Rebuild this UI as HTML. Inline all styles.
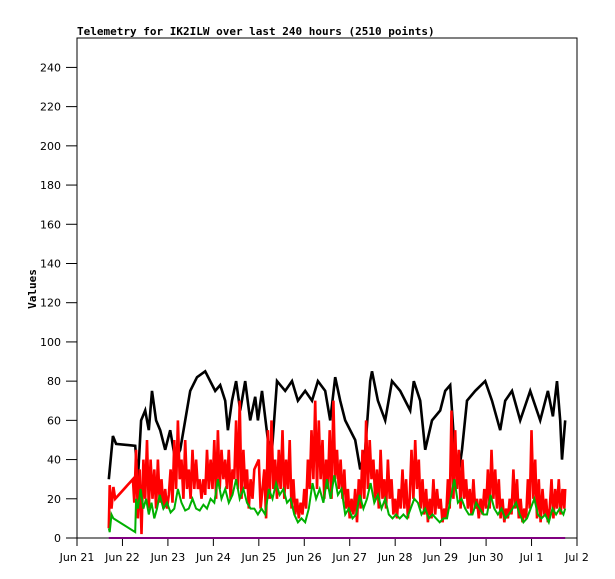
<!DOCTYPE html>
<html><head><meta charset="utf-8"><style>
body{margin:0;background:#fff;}
svg{display:block;font-family:"DejaVu Sans Mono","Liberation Mono",monospace;}
</style></head><body>
<svg id="chart" width="615" height="579" viewBox="0 0 615 579" xmlns="http://www.w3.org/2000/svg">
<rect width="615" height="579" fill="#fff"/>
<text x="77" y="35" font-size="11" font-weight="bold">Telemetry for IK2ILW over last 240 hours (2510 points)</text>
<text x="0" y="0" font-size="11" font-weight="bold" text-anchor="middle" transform="translate(36,289) rotate(-90)">Values</text>
<rect x="77" y="38" width="500" height="500" fill="none" stroke="#000" stroke-width="1"/>
<g id="axes"></g>
<g id="series"></g>
</svg>
<script>
const yTicks=[0,20,40,60,80,100,120,140,160,180,200,220,240];
const xTickLabels=["Jun 21","Jun 22","Jun 23","Jun 24","Jun 25","Jun 26","Jun 27","Jun 28","Jun 29","Jun 30","Jul 1","Jul 2"];
const blackDays=[0.70,0.79,0.86,1.28,1.34,1.41,1.50,1.58,1.65,1.74,1.83,1.94,2.05,2.16,2.27,2.38,2.49,2.64,2.82,2.93,3.04,3.15,3.26,3.32,3.41,3.50,3.59,3.70,3.81,3.92,3.98,4.07,4.20,4.29,4.40,4.58,4.73,4.86,5.02,5.17,5.30,5.46,5.57,5.68,5.79,5.90,6.12,6.23,6.34,6.45,6.49,6.62,6.78,6.93,7.11,7.33,7.41,7.55,7.66,7.81,7.99,8.10,8.21,8.25,8.32,8.38,8.47,8.58,8.76,8.98,9.13,9.31,9.42,9.57,9.75,9.97,10.19,10.36,10.47,10.56,10.63,10.67,10.74];
const blackVals=[30,52,48,47,30,60,65,55,75,60,55,45,55,40,45,60,75,82,85,80,75,78,70,55,70,80,65,80,60,72,60,75,50,45,80,75,80,70,75,70,80,75,60,82,70,60,50,35,45,80,85,70,60,80,75,65,80,70,45,60,65,75,78,65,40,30,45,70,75,80,70,55,70,75,60,75,60,75,62,80,60,40,60];
const redDays=[0.70,0.72,0.76,0.80,0.84,1.23,1.26,1.30,1.34,1.38,1.42,1.46,1.50,1.54,1.58,1.62,1.66,1.70,1.74,1.78,1.82,1.86,1.90,1.94,1.98,2.02,2.06,2.10,2.14,2.18,2.22,2.26,2.30,2.34,2.38,2.42,2.46,2.50,2.54,2.58,2.62,2.66,2.70,2.74,2.78,2.82,2.86,2.90,2.94,2.98,3.02,3.06,3.10,3.14,3.18,3.22,3.26,3.30,3.34,3.38,3.42,3.46,3.50,3.54,3.58,3.62,3.66,3.70,3.74,3.78,3.82,3.86,3.90,4.00,4.04,4.08,4.12,4.16,4.20,4.24,4.28,4.32,4.36,4.40,4.44,4.48,4.52,4.56,4.60,4.64,4.68,4.72,4.76,4.80,4.84,4.88,4.92,4.96,5.00,5.04,5.08,5.12,5.16,5.20,5.24,5.28,5.32,5.36,5.40,5.44,5.48,5.52,5.56,5.60,5.64,5.68,5.72,5.76,5.80,5.84,5.88,5.92,5.96,6.00,6.04,6.08,6.12,6.16,6.20,6.24,6.28,6.32,6.36,6.40,6.44,6.48,6.52,6.56,6.60,6.64,6.68,6.72,6.76,6.80,6.84,6.88,6.92,6.96,7.00,7.04,7.08,7.12,7.16,7.20,7.24,7.28,7.32,7.36,7.40,7.44,7.48,7.52,7.56,7.60,7.64,7.68,7.72,7.76,7.80,7.84,7.88,7.92,7.96,8.00,8.04,8.08,8.12,8.16,8.20,8.24,8.28,8.32,8.36,8.40,8.44,8.48,8.52,8.56,8.60,8.64,8.68,8.72,8.76,8.80,8.84,8.88,8.92,8.96,9.00,9.04,9.08,9.12,9.16,9.20,9.24,9.28,9.32,9.36,9.40,9.44,9.48,9.52,9.56,9.60,9.64,9.68,9.72,9.76,9.80,9.84,9.88,9.92,9.96,10.00,10.04,10.08,10.12,10.16,10.20,10.24,10.28,10.32,10.36,10.40,10.44,10.48,10.52,10.56,10.60,10.64,10.68,10.72,10.74];
const redVals=[5,27,15,26,20,30,18,45,10,35,2,40,20,50,15,40,20,35,15,40,18,30,15,25,15,22,35,18,50,25,60,30,40,20,50,25,35,20,45,25,40,25,30,20,30,22,45,25,40,25,50,20,55,25,45,30,40,25,45,20,35,30,60,25,70,20,45,25,35,15,30,20,35,40,15,25,35,10,55,20,60,25,40,20,45,25,55,20,40,25,50,15,30,12,20,10,18,12,25,15,40,25,55,30,70,25,60,30,50,20,40,25,55,20,70,30,45,25,40,20,35,15,25,10,20,12,25,8,30,15,45,20,60,25,50,30,40,20,35,15,45,20,30,15,40,20,30,12,20,10,25,15,35,15,30,10,20,45,20,50,25,40,15,30,12,25,8,20,10,30,12,25,15,20,8,15,10,30,15,65,20,55,25,45,15,40,20,30,15,25,12,30,15,20,10,20,12,25,15,35,15,45,20,35,15,30,10,20,8,15,10,20,12,35,15,30,10,20,8,15,10,30,15,55,20,40,10,30,8,25,12,20,8,15,30,10,25,15,30,12,25,15,25];
const greenDays=[0.70,0.72,0.76,0.80,1.28,1.30,1.34,1.40,1.46,1.52,1.58,1.64,1.70,1.76,1.82,1.90,1.98,2.06,2.14,2.22,2.30,2.38,2.46,2.54,2.62,2.70,2.78,2.86,2.94,3.02,3.10,3.18,3.26,3.34,3.42,3.50,3.58,3.66,3.74,3.82,3.90,3.98,4.06,4.14,4.22,4.30,4.38,4.46,4.54,4.62,4.70,4.78,4.86,4.94,5.02,5.10,5.18,5.26,5.34,5.42,5.50,5.58,5.66,5.74,5.82,5.90,5.98,6.06,6.14,6.22,6.30,6.38,6.46,6.54,6.62,6.70,6.78,6.86,6.94,7.02,7.10,7.18,7.26,7.34,7.42,7.50,7.58,7.66,7.74,7.82,7.90,7.98,8.06,8.14,8.22,8.30,8.38,8.46,8.54,8.62,8.70,8.78,8.86,8.94,9.02,9.10,9.18,9.26,9.34,9.42,9.50,9.58,9.66,9.74,9.82,9.90,9.98,10.06,10.14,10.22,10.30,10.38,10.46,10.54,10.62,10.70,10.74];
const greenVals=[5,3,12,10,3,20,15,25,15,20,12,18,10,15,22,15,18,13,15,25,18,14,15,20,15,14,17,15,20,18,30,20,25,18,22,30,20,25,18,15,15,12,15,12,25,20,28,22,25,18,20,12,8,10,8,15,28,20,25,18,30,20,32,22,25,12,15,10,12,22,15,20,28,18,22,15,20,12,10,12,10,12,10,15,20,18,12,15,10,12,10,8,10,10,20,30,18,20,15,12,12,18,15,12,12,22,15,12,15,10,12,15,18,12,8,10,15,20,12,10,12,8,15,12,15,12,15];
const purpleDays=[0.70,10.74];
const purpleVals=[0,0];

const X0=77,X1=577,Y0=538,Y1=38,DAYS=11,YMAX=255;
const xS=d=>X0+d*(X1-X0)/DAYS;
const yS=v=>Y0-v*(Y0-Y1)/YMAX;
const NS="http://www.w3.org/2000/svg";
const axes=document.getElementById('axes'),series=document.getElementById('series');
function mk(tag,attrs,parent){const e=document.createElementNS(NS,tag);for(const k in attrs)e.setAttribute(k,attrs[k]);parent.appendChild(e);return e;}
yTicks.forEach(v=>{
  const t=mk('line',{x1:66,x2:77,y1:yS(v),y2:yS(v),stroke:'#000'},axes);
  
  
  const l=mk('text',{x:61,y:yS(v)+4,'font-size':11,'text-anchor':'end','font-family':'DejaVu Sans, sans-serif'},axes);
  
  
  l.textContent=v;
});
xTickLabels.forEach((s,i)=>{
  const t=mk('line',{x1:xS(i),x2:xS(i),y1:538,y2:546,stroke:'#000'},axes);
  
  
  const l=mk('text',{x:xS(i),y:561,'font-size':11,'text-anchor':'middle','font-family':'DejaVu Sans, sans-serif'},axes);
  
  
  l.textContent=s;
});
function line(days,vals,color,name,w){
  const p=mk('polyline',{points:days.map((d,i)=>xS(d).toFixed(1)+','+yS(vals[i]).toFixed(1)).join(' '),fill:'none',stroke:color,'stroke-width':w,'stroke-linejoin':'miter'},series);
  
  
}
line(blackDays,blackVals,'#000','series-black',2.6);
line(redDays,redVals,'#ff0000','series-red',2.6);
line(greenDays,greenVals,'#00b000','series-green',2);
line(purpleDays,purpleVals,'#800080','series-purple',2);
</script>
</body></html>
